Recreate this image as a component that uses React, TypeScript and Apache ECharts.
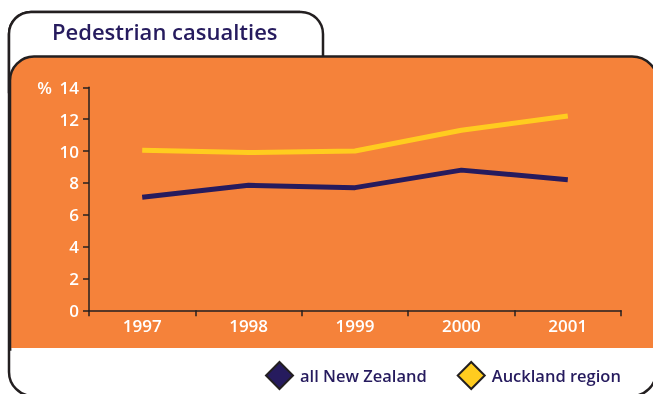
import React, { useEffect, useRef } from "react";
import * as echarts from "echarts";

const years = ["1997", "1998", "1999", "2000", "2001"];
const allNewZealand = [7.1, 7.85, 7.7, 8.8, 8.2];
const aucklandRegion = [10.05, 9.9, 10.0, 11.3, 12.2];
const yTicks = { min: 0, max: 14, interval: 2 };

const ORANGE = "#F5823A";
const NAVY = "#261B5E";
const YELLOW = "#FFCC1F";
const DARK = "#231F20";
const FONT = "'Open Sans', sans-serif";

export default function App() {
  const ref = useRef<HTMLDivElement>(null);
  useEffect(() => {
    if (!ref.current) return;
    const chart = echarts.init(ref.current, null, { renderer: "svg" });
    chart.setOption({
      animation: false,
      graphic: [
        {
          type: "rect",
          z: -10,
          silent: true,
          shape: { x: 9, y: 12, width: 647, height: 384, r: [22, 22, 24, 24] },
          style: { fill: "#fff", stroke: DARK, lineWidth: 2.5 },
        },
        {
          type: "rect",
          z: -9,
          silent: true,
          shape: { x: 300, y: 0, width: 400, height: 54 },
          style: { fill: "#fff" },
        },
        {
          type: "rect",
          z: -8,
          silent: true,
          shape: { x: 9, y: 12, width: 314, height: 80, r: [22, 22, 0, 0] },
          style: { fill: "#fff", stroke: DARK, lineWidth: 2.5 },
        },
        {
          type: "rect",
          z: -7,
          silent: true,
          shape: { x: 10, y: 56.5, width: 648, height: 293, r: [24, 26, 0, 0] },
          style: { fill: ORANGE, stroke: DARK, lineWidth: 2.5 },
        },
        {
          type: "rect",
          z: -6,
          silent: true,
          shape: { x: 11.4, y: 348, width: 643, height: 30 },
          style: { fill: "#fff" },
        },
        {
          type: "text",
          z: 5,
          left: 52,
          top: 20,
          style: {
            text: "Pedestrian casualties",
            fill: NAVY,
            font: `600 22px ${FONT}`,
          },
        },
      ],
      grid: { left: 89, right: 32, top: 87.3, bottom: 83.7, containLabel: false },
      legend: {
        left: 265,
        top: 361,
        padding: 0,
        itemWidth: 27,
        itemHeight: 27,
        itemGap: 30,
        textStyle: { color: NAVY, fontFamily: FONT, fontSize: 16.5, fontWeight: 600, padding: [0, 0, 0, 2] },
        data: [
          { name: "all New Zealand", icon: "diamond", itemStyle: { color: NAVY, borderColor: DARK, borderWidth: 2 } },
          { name: "Auckland region", icon: "diamond", itemStyle: { color: YELLOW, borderColor: DARK, borderWidth: 2 } },
        ],
      },
      xAxis: {
        type: "category",
        data: years,
        boundaryGap: true,
        axisLine: { lineStyle: { color: DARK, width: 1.5 } },
        axisTick: { show: true, length: 6, lineStyle: { color: DARK, width: 1.5 } },
        axisLabel: { color: "#fff", fontFamily: FONT, fontSize: 17, fontWeight: 600, margin: 7 },
        splitLine: { show: false },
      },
      yAxis: {
        type: "value",
        min: yTicks.min,
        max: yTicks.max,
        interval: yTicks.interval,
        name: "%",
        nameLocation: "end",
        nameGap: -9,
        nameTextStyle: { color: "#fff", fontFamily: FONT, fontSize: 17, fontWeight: 600, align: "right", padding: [0, 37, 0, 0] },
        axisLine: { show: true, lineStyle: { color: DARK, width: 1.5 } },
        axisTick: { show: true, length: 6, lineStyle: { color: DARK, width: 1.5 } },
        axisLabel: { color: "#fff", fontFamily: FONT, fontSize: 17, fontWeight: 600, margin: 10 },
        splitLine: { show: false },
      },
      series: [
        {
          name: "all New Zealand",
          type: "line",
          data: allNewZealand,
          showSymbol: false,
          symbol: "none",
          itemStyle: { color: NAVY },
          lineStyle: { color: NAVY, width: 5 },
        },
        {
          name: "Auckland region",
          type: "line",
          data: aucklandRegion,
          showSymbol: false,
          symbol: "none",
          itemStyle: { color: YELLOW },
          lineStyle: { color: YELLOW, width: 5 },
        },
      ],
    });
    return () => chart.dispose();
  }, []);
  return <div ref={ref} style={{ position: "fixed", left: 0, top: 0, width: 653, height: 394 }} />;
}
